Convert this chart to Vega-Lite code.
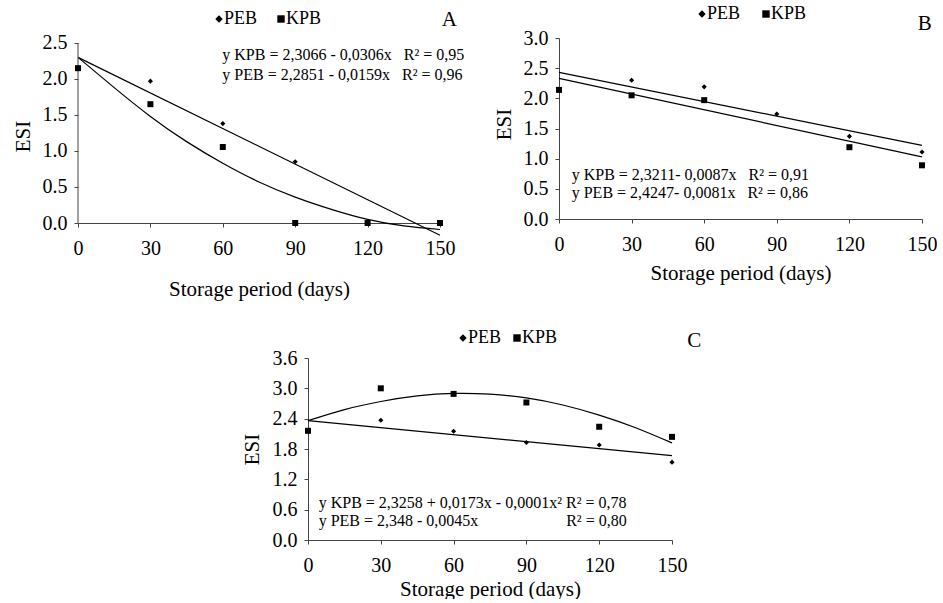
{
  "$schema": "https://vega.github.io/schema/vega-lite/v6.json",
  "padding": {"left": 12, "top": 5, "right": 0, "bottom": 0},
  "background": "white",
  "config": {
    "font": "Liberation Serif",
    "view": {"stroke": null},
    "axis": {"labelFont": "Liberation Serif", "labelFontSize": 20, "labelColor": "#000", "titleFont": "Liberation Serif", "titleFontSize": 21, "titleFontWeight": "normal", "titleColor": "#000", "domainColor": "#444", "tickColor": "#444", "tickSize": 4, "grid": false, "labelOverlap": false, "labelFlush": false, "labelBound": false},
    "legend": {"labelFont": "Liberation Serif", "labelFontSize": 18, "labelColor": "#000", "symbolSize": 55, "symbolFillColor": "#000", "symbolStrokeColor": "#000", "labelOffset": -4, "direction": "horizontal", "orient": "none", "title": null}
  },
  "datasets": {
    "a_pts": [
      {"day": 0, "esi": 2.15, "group": "PEB"}, {"day": 30, "esi": 1.97, "group": "PEB"}, {"day": 60, "esi": 1.38, "group": "PEB"}, {"day": 90, "esi": 0.85, "group": "PEB"}, {"day": 120, "esi": 0, "group": "PEB"}, {"day": 150, "esi": 0, "group": "PEB"},
      {"day": 0, "esi": 2.15, "group": "KPB"}, {"day": 30, "esi": 1.65, "group": "KPB"}, {"day": 60, "esi": 1.055, "group": "KPB"}, {"day": 90, "esi": 0, "group": "KPB"}, {"day": 120, "esi": 0, "group": "KPB"}, {"day": 150, "esi": 0, "group": "KPB"}
    ],
    "a_fit": [
      {"day": 0, "esi": 2.30, "group": "PEB"}, {"day": 150, "esi": -0.17, "group": "PEB"},
      {"day": 0, "esi": 2.30, "group": "KPB"}, {"day": 15, "esi": 1.88, "group": "KPB"}, {"day": 30, "esi": 1.48, "group": "KPB"}, {"day": 45, "esi": 1.13, "group": "KPB"}, {"day": 60, "esi": 0.83, "group": "KPB"}, {"day": 75, "esi": 0.57, "group": "KPB"}, {"day": 90, "esi": 0.36, "group": "KPB"}, {"day": 105, "esi": 0.19, "group": "KPB"}, {"day": 120, "esi": 0.05, "group": "KPB"}, {"day": 135, "esi": -0.04, "group": "KPB"}, {"day": 150, "esi": -0.09, "group": "KPB"}
    ],
    "b_pts": [
      {"day": 0, "esi": 2.14, "group": "PEB"}, {"day": 30, "esi": 2.30, "group": "PEB"}, {"day": 60, "esi": 2.19, "group": "PEB"}, {"day": 90, "esi": 1.74, "group": "PEB"}, {"day": 120, "esi": 1.37, "group": "PEB"}, {"day": 150, "esi": 1.11, "group": "PEB"},
      {"day": 0, "esi": 2.14, "group": "KPB"}, {"day": 30, "esi": 2.05, "group": "KPB"}, {"day": 60, "esi": 1.97, "group": "KPB"}, {"day": 120, "esi": 1.19, "group": "KPB"}, {"day": 150, "esi": 0.89, "group": "KPB"}
    ],
    "b_fit": [
      {"day": 0, "esi": 2.43, "group": "PEB"}, {"day": 150, "esi": 1.22, "group": "PEB"},
      {"day": 0, "esi": 2.33, "group": "KPB"}, {"day": 150, "esi": 1.03, "group": "KPB"}
    ],
    "c_pts": [
      {"day": 0, "esi": 2.16, "group": "PEB"}, {"day": 30, "esi": 2.37, "group": "PEB"}, {"day": 60, "esi": 2.15, "group": "PEB"}, {"day": 90, "esi": 1.93, "group": "PEB"}, {"day": 120, "esi": 1.88, "group": "PEB"}, {"day": 150, "esi": 1.54, "group": "PEB"},
      {"day": 0, "esi": 2.16, "group": "KPB"}, {"day": 30, "esi": 3.00, "group": "KPB"}, {"day": 60, "esi": 2.89, "group": "KPB"}, {"day": 90, "esi": 2.72, "group": "KPB"}, {"day": 120, "esi": 2.24, "group": "KPB"}, {"day": 150, "esi": 2.04, "group": "KPB"}
    ],
    "c_fit": [
      {"day": 0, "esi": 2.36, "group": "PEB"}, {"day": 150, "esi": 1.67, "group": "PEB"},
      {"day": 0, "esi": 2.36, "group": "KPB"}, {"day": 15, "esi": 2.58, "group": "KPB"}, {"day": 30, "esi": 2.74, "group": "KPB"}, {"day": 45, "esi": 2.85, "group": "KPB"}, {"day": 60, "esi": 2.90, "group": "KPB"}, {"day": 75, "esi": 2.885, "group": "KPB"}, {"day": 90, "esi": 2.81, "group": "KPB"}, {"day": 105, "esi": 2.67, "group": "KPB"}, {"day": 120, "esi": 2.47, "group": "KPB"}, {"day": 135, "esi": 2.22, "group": "KPB"}, {"day": 150, "esi": 1.92, "group": "KPB"}
    ],
    "one": [{}]
  },
  "resolve": {"scale": {"shape": "independent"}, "legend": {"shape": "independent"}},
  "spacing": 30,
  "vconcat": [
    {
      "resolve": {"scale": {"shape": "independent"}, "legend": {"shape": "independent"}},
      "spacing": 28,
      "hconcat": [
        {
          "width": 362, "height": 185,
          "layer": [
            {"data": {"name": "a_fit"}, "mark": {"type": "line", "color": "#000", "strokeWidth": 1.2, "interpolate": "natural"},
             "encoding": {
               "x": {"field": "day", "type": "quantitative", "scale": {"domain": [0, 150], "nice": false}, "axis": {"values": [0, 30, 60, 90, 120, 150], "tickCount": 20, "title": "Storage period (days)", "labelPadding": 11, "titlePadding": 20, "labelOverlap": false, "labelFlush": false}},
               "y": {"field": "esi", "type": "quantitative", "scale": {"domain": [0, 2.569], "nice": false}, "axis": {"values": [0, 0.5, 1, 1.5, 2, 2.5], "tickCount": 20, "format": ".1f", "title": "ESI", "domain": false, "labelPadding": 7, "titlePadding": 9, "titleY": 98, "labelOverlap": false}},
               "detail": {"field": "group"}}},
            {"data": {"name": "one"}, "mark": {"type": "rule", "color": "#444"}, "encoding": {"x": {"datum": 0}, "y": {"datum": 0}, "y2": {"datum": 2.5}}},
            {"data": {"name": "a_pts"}, "transform": [{"filter": "datum.group === 'KPB'"}], "mark": {"type": "point", "filled": true, "color": "#000", "opacity": 1, "size": 36},
             "encoding": {"x": {"field": "day", "type": "quantitative"}, "y": {"field": "esi", "type": "quantitative"},
               "shape": {"field": "group", "type": "nominal", "scale": {"domain": ["PEB", "KPB"], "range": ["diamond", "square"]}, "legend": {"legendX": 132, "legendY": -28, "columnPadding": 14, "symbolSize": 55}}}},
            {"data": {"name": "a_pts"}, "transform": [{"filter": "datum.group === 'PEB'"}], "mark": {"type": "point", "filled": true, "color": "#000", "opacity": 1, "size": 26},
             "encoding": {"x": {"field": "day", "type": "quantitative"}, "y": {"field": "esi", "type": "quantitative"}, "shape": {"field": "group", "type": "nominal"}}},
            {"data": {"name": "one"}, "mark": {"type": "text", "text": "y KPB = 2,3066 - 0,0306x\u00a0\u00a0\u00a0R² = 0,95", "align": "left", "baseline": "alphabetic", "fontSize": 16, "color": "#000"}, "encoding": {"x": {"datum": 59.8}, "y": {"datum": 2.26}}},
            {"data": {"name": "one"}, "mark": {"type": "text", "text": "y PEB = 2,2851 - 0,0159x\u00a0\u00a0\u00a0R² = 0,96", "align": "left", "baseline": "alphabetic", "fontSize": 16, "color": "#000"}, "encoding": {"x": {"datum": 59.8}, "y": {"datum": 1.99}}},
            {"data": {"name": "one"}, "mark": {"type": "text", "text": "A", "align": "left", "baseline": "alphabetic", "fontSize": 21, "color": "#000"}, "encoding": {"x": {"datum": 150.7}, "y": {"datum": 2.74}}}
          ]
        },
        {
          "width": 363, "height": 181,
          "layer": [
            {"data": {"name": "b_fit"}, "mark": {"type": "line", "color": "#000", "strokeWidth": 1.2},
             "encoding": {
               "x": {"field": "day", "type": "quantitative", "scale": {"domain": [0, 150], "nice": false}, "axis": {"values": [0, 30, 60, 90, 120, 150], "tickCount": 20, "title": "Storage period (days)", "labelPadding": 11, "titlePadding": 8, "labelOverlap": false, "labelFlush": false}},
               "y": {"field": "esi", "type": "quantitative", "scale": {"domain": [0, 3], "nice": false}, "axis": {"values": [0, 0.5, 1, 1.5, 2, 2.5, 3], "tickCount": 20, "format": ".1f", "title": "ESI", "labelPadding": 7, "titlePadding": 9, "titleY": 86, "labelOverlap": false}},
               "detail": {"field": "group"}}},
            {"data": {"name": "b_pts"}, "transform": [{"filter": "datum.group === 'KPB'"}], "mark": {"type": "point", "filled": true, "color": "#000", "opacity": 1, "size": 36},
             "encoding": {"x": {"field": "day", "type": "quantitative"}, "y": {"field": "esi", "type": "quantitative"},
               "shape": {"field": "group", "type": "nominal", "scale": {"domain": ["PEB", "KPB"], "range": ["diamond", "square"]}, "legend": {"legendX": 134, "legendY": -33, "columnPadding": 16, "symbolSize": 55}}}},
            {"data": {"name": "b_pts"}, "transform": [{"filter": "datum.group === 'PEB'"}], "mark": {"type": "point", "filled": true, "color": "#000", "opacity": 1, "size": 26},
             "encoding": {"x": {"field": "day", "type": "quantitative"}, "y": {"field": "esi", "type": "quantitative"}, "shape": {"field": "group", "type": "nominal"}}},
            {"data": {"name": "one"}, "mark": {"type": "text", "text": "y KPB = 2,3211- 0,0087x\u00a0\u00a0\u00a0R² = 0,91", "align": "left", "baseline": "alphabetic", "fontSize": 16, "color": "#000"}, "encoding": {"x": {"datum": 5.25}, "y": {"datum": 0.65}}},
            {"data": {"name": "one"}, "mark": {"type": "text", "text": "y PEB = 2,4247- 0,0081x\u00a0\u00a0\u00a0R² = 0,86", "align": "left", "baseline": "alphabetic", "fontSize": 16, "color": "#000"}, "encoding": {"x": {"datum": 5.25}, "y": {"datum": 0.347}}},
            {"data": {"name": "one"}, "mark": {"type": "text", "text": "B", "align": "left", "baseline": "alphabetic", "fontSize": 21, "color": "#000"}, "encoding": {"x": {"datum": 148.2}, "y": {"datum": 3.14}}}
          ]
        }
      ]
    },
    {
      "resolve": {"scale": {"shape": "independent"}, "legend": {"shape": "independent"}},
      "spacing": 0,
      "hconcat": [
        {"width": 163, "height": 10, "data": {"name": "one"}, "mark": {"type": "text", "text": ""}},
        {
          "width": 364, "height": 182,
          "layer": [
            {"data": {"name": "c_fit"}, "mark": {"type": "line", "color": "#000", "strokeWidth": 1.2, "interpolate": "natural"},
             "encoding": {
               "x": {"field": "day", "type": "quantitative", "scale": {"domain": [0, 150], "nice": false}, "axis": {"values": [0, 30, 60, 90, 120, 150], "tickCount": 20, "title": "Storage period (days)", "labelPadding": 11, "titlePadding": 3, "labelOverlap": false, "labelFlush": false}},
               "y": {"field": "esi", "type": "quantitative", "scale": {"domain": [0, 3.6], "nice": false}, "axis": {"values": [0, 0.6, 1.2, 1.8, 2.4, 3.0, 3.6], "tickCount": 20, "format": ".1f", "title": "ESI", "labelPadding": 7, "titlePadding": 10, "labelOverlap": false}},
               "detail": {"field": "group"}}},
            {"data": {"name": "c_pts"}, "transform": [{"filter": "datum.group === 'KPB'"}], "mark": {"type": "point", "filled": true, "color": "#000", "opacity": 1, "size": 36},
             "encoding": {"x": {"field": "day", "type": "quantitative"}, "y": {"field": "esi", "type": "quantitative"},
               "shape": {"field": "group", "type": "nominal", "scale": {"domain": ["PEB", "KPB"], "range": ["diamond", "square"]}, "legend": {"legendX": 146, "legendY": -29, "columnPadding": 6, "symbolSize": 55}}}},
            {"data": {"name": "c_pts"}, "transform": [{"filter": "datum.group === 'PEB'"}], "mark": {"type": "point", "filled": true, "color": "#000", "opacity": 1, "size": 26},
             "encoding": {"x": {"field": "day", "type": "quantitative"}, "y": {"field": "esi", "type": "quantitative"}, "shape": {"field": "group", "type": "nominal"}}},
            {"data": {"name": "one"}, "mark": {"type": "text", "text": "y KPB = 2,3258 + 0,0173x - 0,0001x² R² = 0,78", "align": "left", "baseline": "alphabetic", "fontSize": 16, "color": "#000"}, "encoding": {"x": {"datum": 4.4}, "y": {"datum": 0.633}}},
            {"data": {"name": "one"}, "mark": {"type": "text", "text": "y PEB = 2,348 - 0,0045x", "align": "left", "baseline": "alphabetic", "fontSize": 16, "color": "#000"}, "encoding": {"x": {"datum": 4.4}, "y": {"datum": 0.283}}},
            {"data": {"name": "one"}, "mark": {"type": "text", "text": "R² = 0,80", "align": "left", "baseline": "alphabetic", "fontSize": 16, "color": "#000"}, "encoding": {"x": {"datum": 106.4}, "y": {"datum": 0.283}}},
            {"data": {"name": "one"}, "mark": {"type": "text", "text": "C", "align": "left", "baseline": "alphabetic", "fontSize": 21, "color": "#000"}, "encoding": {"x": {"datum": 156.3}, "y": {"datum": 3.81}}}
          ]
        }
      ]
    }
  ]
}
